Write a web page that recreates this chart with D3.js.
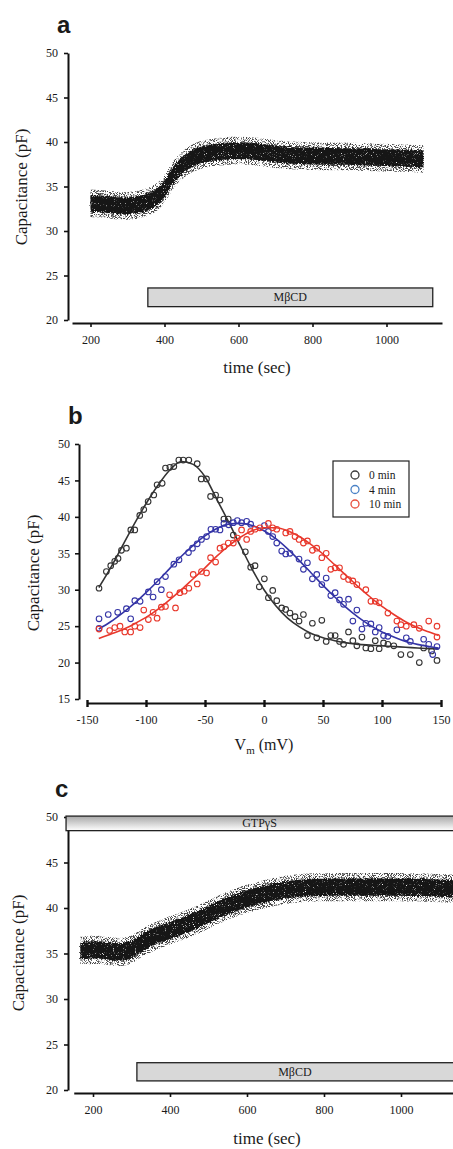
<!DOCTYPE html>
<html>
<head>
<meta charset="utf-8">
<script src="https://cdn.jsdelivr.net/npm/d3@7"></script>
<style>
body { margin: 0; background: #fff; }
svg { display: block; }
text { font-family: "Liberation Serif", "Times New Roman", serif; fill: #1a1a1a; }
</style>
</head>
<body>
<script>
// ---- panel a: capacitance recording (centre of the noisy trace) ----
var timeA = [200, 250, 295, 350, 377, 400, 423, 450, 477, 510, 542, 600, 660, 720, 800, 857, 950, 1030, 1100];
var capA = [33.1, 33.0, 32.7, 33.1, 33.7, 34.6, 36.4, 37.5, 38.3, 38.7, 38.9, 39.1, 38.9, 38.5, 38.4, 38.4, 38.3, 38.2, 38.1];
var barA = { label: "MβCD", from: 355, to: 1125, lo: 21.5, hi: 23.6 };

// ---- panel c: recording with GTPγS in the pipette ----
var timeC = [167, 219, 271, 305, 331, 374, 426, 478, 529, 581, 633, 702, 779, 866, 952, 1038, 1135, 1180];
var capC = [35.3, 35.5, 35.0, 35.5, 36.3, 37.2, 37.9, 38.8, 39.9, 40.8, 41.4, 42.1, 42.3, 42.3, 42.3, 42.3, 42.1, 42.1];
var barC = { label: "MβCD", from: 314, to: 1200, lo: 21.0, hi: 23.0 };
var gtpC = { label: "GTPγS", from: 130, to: 1200, lo: 48.5, hi: 50.1 };

var timeTicks = [200, 400, 600, 800, 1000];
var capTicks = [20, 25, 30, 35, 40, 45, 50];

// ---- panel b: C-V curves ----
var v0 = [-139.8,-133.6,-129.9,-126.5,-123.7,-120.8,-116.6,-112.9,-109.5,-105.3,-101.9,-98.2,-93.4,-90.6,-86.3,-83.5,-79.8,-76.4,-72.2,-68.5,-63.7,-56.6,-53.2,-48.7,-45.3,-41.0,-37.3,-34.0,-30.3,-26.0,-15.8,-11.3,-7.6,-4.0,0.3,3.7,7.4,10.8,15.0,18.4,22.0,26.3,29.7,33.4,36.8,41.0,44.7,49.0,52.7,56.6,60.3,64.0,67.4,71.6,75.3,78.7,83.0,86.3,90.6,94.3,97.6,101.3,105.0,116.0,124.0,131.6,135.3,146.6,110.0,142.0];
var c0 = [30.2,32.5,33.3,33.9,34.3,35.4,35.7,38.2,38.2,40.2,41.0,42.1,43.0,44.4,44.6,46.7,46.8,46.9,47.8,47.8,47.8,47.3,45.2,45.2,42.8,43.0,42.3,39.7,39.7,37.5,35.2,33.1,33.3,30.4,31.5,28.9,29.9,28.5,27.5,27.3,26.8,26.3,25.7,26.6,23.7,25.4,23.4,25.8,22.9,23.7,23.7,22.9,22.5,24.2,23.0,22.3,23.5,22.0,21.9,23.0,21.9,22.7,22.5,21.1,21.1,20.0,22.0,20.3,22.3,21.6];
var v4 = [-139.8,-139.8,-132,-124,-116.6,-113,-109.5,-105,-98,-94,-90.6,-87,-83.5,-76.4,-72,-64,-60.6,-56.6,-53,-48.7,-45,-41,-37.3,-34,-30,-26,-22.6,-19,-14.7,-11.3,0.3,3.7,7.4,10.8,15,18.4,22,29.7,33.4,36.8,41,44.7,49,52.7,56.6,60.3,64,67.4,71.6,75.3,78.7,83,86.3,90.6,94.3,97.6,101.3,105,112.6,120.6,124,135.3,139.6,143,146.6];
var c4 = [26.0,24.7,26.6,26.9,27.4,26.0,28.5,28.4,29.7,29.0,31.1,30.0,31.8,33.5,34.1,35.1,35.7,36.3,36.9,37.3,38.3,38.3,38.2,39.1,38.9,39.2,39.5,39.2,39.4,39.0,38.8,38.0,37.3,36.4,35.3,34.9,35.0,34.2,32.8,33.7,31.5,32.1,30.7,31.6,29.2,29.6,28.6,28.0,28.7,25.7,27.2,24.6,25.4,25.3,24.2,24.8,23.7,23.6,24.5,23.4,22.9,23.2,22.5,21.1,22.2];
var v10 = [-139.8,-130.8,-126.5,-122,-118,-113,-109.5,-105,-101.9,-98,-94,-90.6,-87,-83.5,-80,-75,-71.3,-67.6,-63.7,-60,-56.6,-53,-48.7,-45.3,-41,-37.3,-34,-30.3,-26,-22.6,-19,-14.7,-11.3,-7.6,-3.4,3.7,7.4,10.8,18.4,22,26.3,29.7,33.4,36.8,41,44.7,49,52.7,56.6,60.3,64,67.4,71.6,75.3,78.7,86.3,90.6,94.3,97.6,105,112.6,116,120.6,127,131.6,139.6,146.6,146.6];
var c10 = [24.6,24.4,24.8,25.0,24.2,24.2,25.0,24.8,27.2,25.9,26.9,26.1,27.6,27.7,29.3,27.5,29.6,29.8,30.2,32.1,30.8,32.5,32.3,34.4,33.8,35.7,35.9,36.4,36.4,37.1,38.2,36.9,38.0,38.3,38.5,39.1,38.5,38.3,37.8,38.0,37.3,36.9,36.4,36.7,35.4,35.7,34.4,35.0,32.8,33.0,33.0,31.8,31.4,31.2,30.7,30.0,28.4,28.4,28.2,26.8,25.7,25.2,25.0,25.2,24.7,25.7,25.0,23.5];

// fitted curves
var fitV = [-140,-130,-120,-110,-100,-90,-80,-70,-60,-50,-40,-30,-20,-10,0,10,20,30,40,50,60,70,80,90,100,110,120,130,140,148];
var fit0 = [30.3,33.0,36.0,39.0,41.8,44.3,46.4,47.6,47.2,45.5,42.4,39.3,36.0,32.8,30.0,27.8,26.1,24.9,24.0,23.4,23.0,22.7,22.5,22.4,22.3,22.2,22.1,22.0,21.9,21.9];
var fit4 = [24.6,25.6,26.8,28.1,29.6,31.2,32.9,34.6,36.1,37.4,38.4,39.0,39.1,38.8,38.1,37.0,35.6,34.0,32.3,30.6,29.0,27.5,26.2,25.1,24.2,23.5,22.9,22.5,22.2,22.0];
var fit10 = [23.3,23.9,24.5,25.3,26.2,27.3,28.6,30.0,31.5,33.0,34.6,36.0,37.2,38.1,38.5,38.5,38.1,37.3,36.2,34.9,33.4,31.9,30.4,29.0,27.7,26.6,25.6,24.8,24.2,23.7];

var seriesNames = ["0 min", "4 min", "10 min"];
var vTicks = [-150, -100, -50, 0, 50, 100, 150];
var cvTicks = [15, 20, 25, 30, 35, 40, 45, 50];

var width = 453;
var height = 1149;

var svg = d3.select('body').append('svg')
    .attr('width', width)
    .attr('height', height);

svg.append('rect').attr('width', width).attr('height', height).attr('fill', '#fff');

var defs = svg.append('defs');

// grain filters to make the trace band look like a dense cloud of samples
var grain = defs.append('filter').attr('id', 'grain')
    .attr('x', '-3%').attr('y', '-15%').attr('width', '106%').attr('height', '130%');
grain.append('feTurbulence').attr('type', 'fractalNoise').attr('baseFrequency', 0.95)
    .attr('numOctaves', 2).attr('seed', 7).attr('result', 'n');
grain.append('feColorMatrix').attr('in', 'n').attr('type', 'matrix')
    .attr('values', '0 0 0 0 0  0 0 0 0 0  0 0 0 0 0  9 0 0 0 -4.4').attr('result', 'm');
grain.append('feComposite').attr('in', 'SourceGraphic').attr('in2', 'm').attr('operator', 'in');

var rough = defs.append('filter').attr('id', 'rough')
    .attr('x', '-3%').attr('y', '-15%').attr('width', '106%').attr('height', '130%');
rough.append('feTurbulence').attr('type', 'fractalNoise').attr('baseFrequency', 0.8)
    .attr('numOctaves', 1).attr('seed', 3).attr('result', 'n');
rough.append('feDisplacementMap').attr('in', 'SourceGraphic').attr('in2', 'n')
    .attr('scale', 5).attr('xChannelSelector', 'R').attr('yChannelSelector', 'G').attr('result', 'd');
rough.append('feTurbulence').attr('type', 'fractalNoise').attr('baseFrequency', 1.1)
    .attr('numOctaves', 1).attr('seed', 11).attr('result', 'n2');
rough.append('feColorMatrix').attr('in', 'n2').attr('type', 'matrix')
    .attr('values', '0 0 0 0 0  0 0 0 0 0  0 0 0 0 0  8 0 0 0 -1.9').attr('result', 'm2');
rough.append('feComposite').attr('in', 'd').attr('in2', 'm2').attr('operator', 'in');

var grad = defs.append('linearGradient').attr('id', 'gtpgrad')
    .attr('x1', 0).attr('y1', 0).attr('x2', 0).attr('y2', 1);
grad.append('stop').attr('offset', '0%').attr('stop-color', '#a8a8a8');
grad.append('stop').attr('offset', '100%').attr('stop-color', '#ffffff');

function plainFormat(d) { return String(d); }

function styleAxis(g) {
    g.selectAll('path.domain').attr('stroke', '#111').attr('stroke-width', 2);
    g.selectAll('.tick line').attr('stroke', '#111').attr('stroke-width', 1.6);
    g.selectAll('.tick text').attr('font-family', '"Liberation Serif", serif')
        .attr('font-size', 12).attr('fill', '#333');
}

function panelLabel(txt, x, y) {
    svg.append('text').attr('x', x).attr('y', y).text(txt)
        .style('font-family', '"Liberation Sans", Arial, sans-serif')
        .attr('font-weight', 'bold').attr('font-size', 24).attr('fill', '#111');
}

function yLabel(x, y) {
    svg.append('text').attr('transform', 'translate(' + x + ',' + y + ') rotate(-90)')
        .attr('text-anchor', 'middle').attr('font-size', 17).attr('fill', '#333')
        .text('Capacitance (pF)');
}

function drawBar(bar, x, y, fill) {
    var g = svg.append('g');
    g.append('rect')
        .attr('x', x(bar.from)).attr('y', y(bar.hi))
        .attr('width', x(bar.to) - x(bar.from)).attr('height', y(bar.lo) - y(bar.hi))
        .attr('fill', fill).attr('stroke', '#222').attr('stroke-width', 1.3);
    var cx = (x(bar.from) + Math.min(x(bar.to), width)) / 2;
    g.append('text').attr('x', cx).attr('y', (y(bar.lo) + y(bar.hi)) / 2 + 4)
        .attr('text-anchor', 'middle').attr('font-size', 12).attr('fill', '#333')
        .text(bar.label);
}

function drawTrace(times, caps, x, y) {
    var pts = times.map(function (t, i) { return { t: t, c: caps[i] }; });
    var wide = d3.area()
        .x(function (d) { return x(d.t); })
        .y0(function (d) { return y(d.c - 1.55); })
        .y1(function (d) { return y(d.c + 1.55); })
        .curve(d3.curveBasis);
    var core = d3.area()
        .x(function (d) { return x(d.t); })
        .y0(function (d) { return y(d.c - 0.95); })
        .y1(function (d) { return y(d.c + 0.95); })
        .curve(d3.curveBasis);
    svg.append('path').datum(pts).attr('d', wide)
        .attr('fill', '#4a4a4a').attr('filter', 'url(#grain)');
    svg.append('path').datum(pts).attr('d', core)
        .attr('fill', '#161616').attr('filter', 'url(#rough)');
}

function timePanel(opts) {
    var x = d3.scaleLinear().domain([150, 1150]).range(opts.xr);
    var y = d3.scaleLinear().domain([20, 50]).range(opts.yr);

    var ya = svg.append('g').attr('transform', 'translate(' + opts.yAxisX + ',0)')
        .call(d3.axisLeft(y).tickValues(capTicks).tickFormat(plainFormat)
            .tickSize(4).tickSizeOuter(0).tickPadding(6));
    styleAxis(ya);

    var xa = svg.append('g').attr('transform', 'translate(0,' + opts.xAxisY + ')')
        .call(d3.axisBottom(x).tickValues(timeTicks).tickFormat(plainFormat)
            .tickSize(4).tickSizeOuter(0).tickPadding(8));
    styleAxis(xa);

    if (opts.gtp) drawBar(opts.gtp, x, y, 'url(#gtpgrad)');
    drawTrace(opts.times, opts.caps, x, y);
    drawBar(opts.bar, x, y, '#d8d8d8');

    svg.append('text').attr('x', opts.xLabel[0]).attr('y', opts.xLabel[1])
        .attr('text-anchor', 'middle').attr('font-size', 17).attr('fill', '#333')
        .text('time (sec)');
    yLabel(opts.yLabel[0], opts.yLabel[1]);
}

// ---- panel a ----
panelLabel('a', 57, 33);
timePanel({
    xr: [72, 442], yr: [320, 53], yAxisX: 68, xAxisY: 323,
    times: timeA, caps: capA, bar: barA,
    xLabel: [257, 373], yLabel: [27, 187]
});

// ---- panel c ----
panelLabel('c', 55, 797);
timePanel({
    xr: [73.75, 458.75], yr: [1090, 817], yAxisX: 68, xAxisY: 1093,
    times: timeC, caps: capC, bar: barC, gtp: gtpC,
    xLabel: [267, 1144], yLabel: [24, 953]
});

// ---- panel b ----
panelLabel('b', 68, 424);

var xB = d3.scaleLinear().domain([-150, 150]).range([87, 441]);
var yB = d3.scaleLinear().domain([15, 50]).range([699, 444]);

var yaB = svg.append('g').attr('transform', 'translate(79,0)')
    .call(d3.axisLeft(yB).tickValues(cvTicks).tickFormat(plainFormat)
        .tickSize(4).tickSizeOuter(0).tickPadding(5));
styleAxis(yaB);

var xaB = svg.append('g').attr('transform', 'translate(0,703)')
    .call(d3.axisBottom(xB).tickValues(vTicks).tickFormat(plainFormat)
        .tickSize(4).tickSizeOuter(0).tickPadding(8));
styleAxis(xaB);
xaB.selectAll('.tick line').attr('y1', -3).attr('y2', 4).attr('stroke-width', 2.4);

var colors = ['#333333', '#3434a6', '#e8382c'];
var legendColors = ['#3a3a3a', '#4a82c6', '#e8503e'];
var pointSets = [[v0, c0], [v4, c4], [v10, c10]];
var fits = [fit0, fit4, fit10];

var line = d3.line()
    .x(function (d) { return xB(d[0]); })
    .y(function (d) { return yB(d[1]); })
    .curve(d3.curveMonotoneX);

pointSets.forEach(function (set, k) {
    var pts = set[0].map(function (v, i) { return [v, set[1][i]]; });
    svg.append('g').selectAll('circle')
        .data(pts)
        .enter().append('circle')
        .attr('cx', function (d) { return xB(d[0]); })
        .attr('cy', function (d) { return yB(d[1]); })
        .attr('r', 2.8)
        .attr('fill', 'none')
        .attr('stroke', colors[k])
        .attr('stroke-width', 1.1);
    svg.append('path')
        .datum(fitV.map(function (v, i) { return [v, fits[k][i]]; }))
        .attr('d', line)
        .attr('fill', 'none')
        .attr('stroke', colors[k])
        .attr('stroke-width', 1.6);
});

// legend
var leg = svg.append('g').attr('transform', 'translate(333,461)');
leg.append('rect').attr('width', 76).attr('height', 56)
    .attr('fill', '#fff').attr('stroke', '#222').attr('stroke-width', 1.2);
seriesNames.forEach(function (name, k) {
    leg.append('circle').attr('cx', 22).attr('cy', 14 + k * 14.5).attr('r', 4)
        .attr('fill', 'none').attr('stroke', legendColors[k]).attr('stroke-width', 1.3);
    leg.append('text').attr('x', 36).attr('y', 18 + k * 14.5)
        .attr('font-size', 11.5).attr('fill', '#222').text(name);
});

// x label V_m (mV)
var vl = svg.append('text').attr('x', 264).attr('y', 750)
    .attr('text-anchor', 'middle').attr('font-size', 16).attr('fill', '#333');
vl.append('tspan').text('V');
vl.append('tspan').attr('font-size', 11).attr('dy', 4).text('m');
vl.append('tspan').attr('dy', -4).text(' (mV)');

yLabel(39, 573);
</script>
</body>
</html>
